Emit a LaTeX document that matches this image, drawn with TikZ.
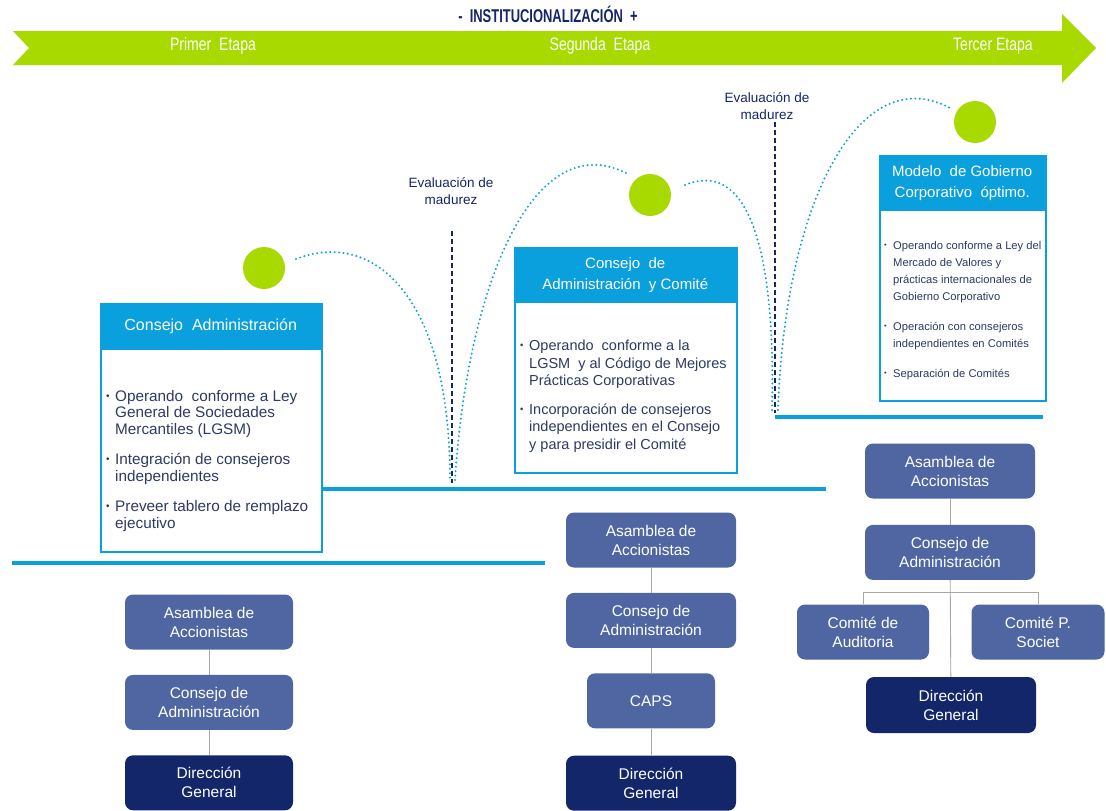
\documentclass[tikz,border=0pt]{standalone}
\usepackage{graphicx}
\usepackage{fontspec}
\setmainfont{Liberation Sans}
\newfontfamily\narrowfont{Liberation Sans}[FakeStretch=0.78]
\newfontfamily\titlefont{Liberation Sans}[FakeStretch=0.7]
\usetikzlibrary{positioning}

\definecolor{lima}{HTML}{A8DA00}
\definecolor{celeste}{HTML}{0A9FDD}
\definecolor{pizarra}{HTML}{4F66A3}
\definecolor{marino}{HTML}{14266A}
\definecolor{tinta}{HTML}{2D3A63}
\definecolor{gris}{HTML}{A8A8A8}

\newcommand{\bul}{\makebox[9pt][l]{\raisebox{0.25ex}{\scalebox{0.65}{\textbullet}}}}
\newcommand{\ind}{\hspace*{9pt}}

\tikzset{
  orgbox/.style={rectangle,rounded corners=8pt,fill=pizarra,text=white,align=center,
    minimum width=168pt,minimum height=55pt,inner sep=2pt,font=\fontsize{15.5}{19}\selectfont},
  dirbox/.style={orgbox,fill=marino},
  hdr/.style={rectangle,fill=celeste,text=white,align=center,anchor=north west,inner sep=0pt},
  panel/.style={rectangle,draw=celeste,line width=1.5pt,fill=white,anchor=north west,inner sep=0pt},
  items/.style={anchor=north west,align=left,text=tinta,inner sep=0pt},
  stage/.style={text=white,font=\narrowfont\fontsize{18}{20}\selectfont},
  level/.style={celeste,line width=4.5pt},
  hop/.style={celeste,line width=2.2pt,dash pattern=on 0pt off 4.4pt,line cap=round},
  gate/.style={marino,line width=1.1pt,dash pattern=on 5pt off 3pt},
  link/.style={gris,line width=0.9pt},
  ball/.style={circle,fill=lima,minimum size=42pt,inner sep=0pt},
  evalnote/.style={align=center,text=marino,font=\fontsize{13.5}{17}\selectfont},
}

\begin{document}
\begin{tikzpicture}[x=1pt,y=-1pt]
\useasboundingbox (0,0) rectangle (1106,811);
\fill[white] (0,0) rectangle (1106,811);

% banner
\fill[lima] (13,31) -- (1062,31) -- (1062,14) -- (1096,48) -- (1062,83) -- (1062,65) -- (13,65) -- (29,48) -- cycle;
\node[text=marino,font=\titlefont\bfseries\fontsize{18.5}{20}\selectfont] (titulo) at (548,14) {-\ \ INSTITUCIONALIZACIÓN \ +};
\node[stage] (et1) at (213,46) {Primer \ Etapa};
\node[stage] (et2) at (600,46) {Segunda \ Etapa};
\node[stage] (et3) at (993,46) {Tercer Etapa};

% niveles
\draw[level] (12,563) -- (545,563);
\draw[level] (321,489) -- (826,489);
\draw[level] (775,417) -- (1043,417);

% evaluaciones
\node[evalnote] (eval1) at (451,191) {Evaluación de\\madurez};
\node[evalnote] (eval2) at (767,106) {Evaluación de\\madurez};
\coordinate (g1a) at (452,231);
\coordinate (g1b) at (452,483);
\coordinate (g2a) at (775,122);
\coordinate (g2b) at (775,413);
\draw[gate] (g1a) -- (g1b);
\draw[gate] (g2a) -- (g2b);

% saltos
\node[ball] (c1) at (264,268) {};
\node[ball] (c2) at (650,195) {};
\node[ball] (c3) at (975,122) {};
\draw[hop] (296,259) .. controls (370,230) and (450,290) .. (450,480);
\draw[hop] (455,480) .. controls (468,280) and (535,125) .. (628,174);
\draw[hop] (685,185) .. controls (745,160) and (776,240) .. (772,410);
\draw[hop] (778,410) .. controls (785,200) and (860,60) .. (950,108);

% etapa 1
\node[panel,minimum width=221pt,minimum height=248pt] (pan1) at (100,303) {};
\node[hdr,minimum width=221pt,minimum height=47pt,font=\fontsize{16}{20}\selectfont] (hdr1) at (100,303) {Consejo \ Administración};
\node[items,font=\fontsize{15.3}{16.5}\selectfont] (txt1) at (106,390) {\bul Operando \ conforme a Ley\\\ind General de Sociedades\\\ind Mercantiles (LGSM)\\[14pt]\bul Integración de consejeros\\\ind independientes\\[14pt]\bul Preveer tablero de remplazo\\\ind ejecutivo};

% etapa 2
\node[panel,minimum width=222pt,minimum height=225pt] (pan2) at (514,247) {};
\node[hdr,minimum width=222pt,minimum height=56pt,font=\fontsize{15}{21}\selectfont] (hdr2) at (514,247) {Consejo \ de\\Administración \ y Comité};
\node[items,font=\fontsize{14.5}{17.3}\selectfont] (txt2) at (520,340) {\bul Operando \ conforme a la\\\ind LGSM \ y al Código de Mejores\\\ind Prácticas Corporativas\\[12pt]\bul Incorporación de consejeros\\\ind independientes en el Consejo\\\ind y para presidir el Comité};

% etapa 3
\node[panel,minimum width=166pt,minimum height=245pt] (pan3) at (879,155) {};
\node[hdr,minimum width=166pt,minimum height=56pt,font=\fontsize{15}{21}\selectfont] (hdr3) at (879,155) {Modelo \ de Gobierno\\Corporativo \ óptimo.};
\node[items,font=\fontsize{11.2}{17}\selectfont] (txt3) at (884,241) {\bul Operando conforme a Ley del\\\ind Mercado de Valores y\\\ind prácticas internacionales de\\\ind Gobierno Corporativo\\[13pt]\bul Operación con consejeros\\\ind independientes en Comités\\[13pt]\bul Separación de Comités};

% organigrama 1
\node[orgbox] (asam1) at (209,622) {Asamblea de\\Accionistas};
\node[orgbox,below=25pt of asam1] (cons1) {Consejo de\\Administración};
\node[dirbox,below=25pt of cons1] (dir1) {Dirección\\General};
\draw[link] (asam1) -- (cons1);
\draw[link] (cons1) -- (dir1);

% organigrama 2
\node[orgbox,minimum width=170pt] (asam2) at (651,540) {Asamblea de\\Accionistas};
\node[orgbox,minimum width=170pt,below=25pt of asam2] (cons2) {Consejo de\\Administración};
\node[orgbox,minimum width=128pt,below=25pt of cons2] (caps) {CAPS};
\node[dirbox,minimum width=170pt,below=27pt of caps] (dir2) {Dirección\\General};
\draw[link] (asam2) -- (cons2);
\draw[link] (cons2) -- (caps);
\draw[link] (caps) -- (dir2);

% organigrama 3
\node[orgbox,minimum width=170pt] (asam3) at (950,471) {Asamblea de\\Accionistas};
\node[orgbox,minimum width=170pt,below=26pt of asam3] (cons3) {Consejo de\\Administración};
\node[orgbox,minimum width=132pt] (aud) at (863,632) {Comité de\\Auditoria};
\node[orgbox,minimum width=133pt] (soc) at (1038,632) {Comité P.\\Societ};
\node[dirbox,minimum width=170pt,minimum height=56pt] (dir3) at (951,705) {Dirección\\General};
\draw[link] (asam3) -- (cons3);
\draw[link] (cons3) -- (dir3);
\draw[link] (aud.north) -- ++(0,-12) -| (soc.north);
\end{tikzpicture}
\end{document}
